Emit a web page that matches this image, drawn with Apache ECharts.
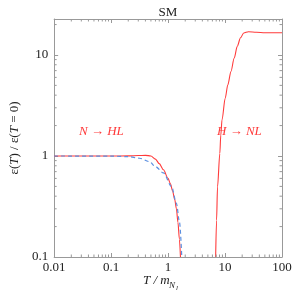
<!DOCTYPE html>
<html><head><meta charset="utf-8">
<script src="https://cdn.jsdelivr.net/npm/echarts@6/dist/echarts.min.js"></script>
<style>html,body{margin:0;padding:0;background:#fff}#c{width:295px;height:295px}</style>
</head><body><div id="c"></div>
<script>
// ---- data ----
const redLowT = [0.01, 0.05, 0.1, 0.2, 0.3, 0.4, 0.5, 0.6, 0.7, 0.83, 1.0, 1.1, 1.2, 1.31, 1.4, 1.49, 1.58, 1.65];
const redLowV = [1, 1, 1, 1.002, 1.01, 1.015, 1.0, 0.93, 0.84, 0.73, 0.6, 0.53, 0.45, 0.37, 0.3, 0.22, 0.15, 0.1];
const redHighT = [6.84, 7.1, 7.38, 8.1, 8.42, 8.85, 10.06, 11.2, 12.7, 14.5, 16.4, 18.7, 21.3, 25.8, 35.6, 50, 100];
const redHighV = [0.1, 0.231, 0.495, 1.06, 1.61, 2.28, 3.73, 5.07, 6.87, 9.33, 12.2, 14.8, 16.5, 17.0, 16.8, 16.6, 16.6];
const blueT = [0.01, 0.1, 0.2, 0.316, 0.47, 0.6, 0.83, 1.15, 1.4, 1.59, 1.74];
const blueV = [1, 0.997, 0.985, 0.95, 0.88, 0.785, 0.68, 0.5, 0.34, 0.22, 0.1];
const xMajorTicks = [0.01, 0.1, 1, 10, 100];
const yMajorTicks = [0.1, 1, 10];
const xMinorTicks = [0.02,0.03,0.04,0.05,0.06,0.07,0.08,0.09,0.2,0.3,0.4,0.5,0.6,0.7,0.8,0.9,2,3,4,5,6,7,8,9,20,30,40,50,60,70,80,90];
const yMinorTicks = [0.2,0.3,0.4,0.5,0.6,0.7,0.8,0.9,2,3,4,5,6,7,8,9,20];
const X_MIN = 0.01, X_MAX = 100, Y_MIN = 0.1, Y_MAX = 22.7;

const FONT = '"Liberation Serif", "Times New Roman", serif';
const FRAME = '#999';
const RED = '#ff3b3b';
const BLUE = '#5b8fe0';

const zip = (a, b) => a.map((v, i) => [v, b[i]]);

function axisCommon(pos, isX, labels) {
  return {
    type: 'log', logBase: 10, position: pos,
    min: isX ? X_MIN : Y_MIN, max: isX ? X_MAX : Y_MAX,
    axisLine: { show: true, lineStyle: { color: FRAME, width: 1 } },
    axisTick: { show: true, inside: true, length: 4, lineStyle: { color: FRAME },
      customValues: isX ? xMajorTicks : yMajorTicks },
    axisLabel: labels ? { show: true, fontFamily: FONT, fontSize: 13, color: '#222',
      margin: isX ? 4 : 6, customValues: isX ? xMajorTicks : yMajorTicks,
      formatter: v => String(+v.toPrecision(3)) } : { show: false },
    splitLine: { show: false }, minorTick: { show: false }
  };
}

function tickRenderer(isX) {
  return function (params, api) {
    const v = api.value(isX ? 0 : 1);
    if (isX) {
      const a = api.coord([v, Y_MIN]), b = api.coord([v, Y_MAX]);
      return { type: 'group', children: [
        { type: 'line', shape: { x1: a[0], y1: a[1], x2: a[0], y2: a[1] - 2.5 }, style: { stroke: FRAME, lineWidth: 1 } },
        { type: 'line', shape: { x1: b[0], y1: b[1], x2: b[0], y2: b[1] + 2.5 }, style: { stroke: FRAME, lineWidth: 1 } }
      ]};
    }
    const c = api.coord([X_MIN, v]), d = api.coord([X_MAX, v]);
    return { type: 'group', children: [
      { type: 'line', shape: { x1: c[0], y1: c[1], x2: c[0] + 2.5, y2: c[1] }, style: { stroke: FRAME, lineWidth: 1 } },
      { type: 'line', shape: { x1: d[0], y1: d[1], x2: d[0] - 2.5, y2: d[1] }, style: { stroke: FRAME, lineWidth: 1 } }
    ]};
  };
}

const gfont = (size, italic) => (italic ? 'italic ' : '') + size + 'px "Liberation Serif", serif';

const chart = echarts.init(document.getElementById('c'), null, { renderer: 'canvas' });
chart.setOption({
  animation: false,
  backgroundColor: '#fff',
  title: { text: 'SM', left: 163, top: 1, textAlign: 'center',
    textStyle: { fontFamily: FONT, fontSize: 13, fontWeight: 'normal', color: '#222' } },
  grid: { left: 44, right: 13, top: 19, bottom: 38 },
  xAxis: [axisCommon('bottom', true, true), axisCommon('top', true, false)],
  yAxis: [
    Object.assign(axisCommon('left', false, true), {
      name: '{n|ε(}{i|T}{n|) / ε(}{i|T}{n| = 0)}', nameLocation: 'middle', nameGap: 28, nameRotate: 90,
      nameTextStyle: { rich: {
        n: { fontFamily: FONT, fontSize: 13, color: '#222' },
        i: { fontFamily: FONT, fontSize: 13, fontStyle: 'italic', color: '#222' } } }
    }),
    axisCommon('right', false, false)
  ],
  graphic: [
    { type: 'text', left: 143, top: 274, style: { text: 'T / m', font: gfont(13, true), fill: '#222' } },
    { type: 'text', left: 169, top: 281, style: { text: 'N', font: gfont(9, true), fill: '#222' } },
    { type: 'text', left: 176, top: 285, style: { text: 'l', font: gfont(7, true), fill: '#222' } },
    { type: 'text', left: 79, top: 125, style: { text: 'N → HL', font: gfont(13, true), fill: RED } },
    { type: 'text', left: 217, top: 125, style: { text: 'H → NL', font: gfont(13, true), fill: RED } }
  ],
  series: [
    { type: 'line', data: zip(blueT, blueV), showSymbol: false, smooth: 0.3, smoothMonotone: 'x',
      lineStyle: { color: BLUE, width: 1.2, type: [4, 3] }, z: 3 },
    { type: 'line', data: zip(redLowT, redLowV), showSymbol: false, smooth: 0.3, smoothMonotone: 'x',
      lineStyle: { color: RED, width: 1.1 }, z: 2 },
    { type: 'line', data: zip(redHighT, redHighV), showSymbol: false, smooth: 0.3, smoothMonotone: 'x',
      lineStyle: { color: RED, width: 1.1 }, z: 2 },
    { type: 'custom', renderItem: tickRenderer(true), data: xMinorTicks.map(v => [v, Y_MIN]), clip: false, silent: true, z: 5 },
    { type: 'custom', renderItem: tickRenderer(false), data: yMinorTicks.map(v => [X_MIN, v]), clip: false, silent: true, z: 5 }
  ]
});
</script></body></html>
